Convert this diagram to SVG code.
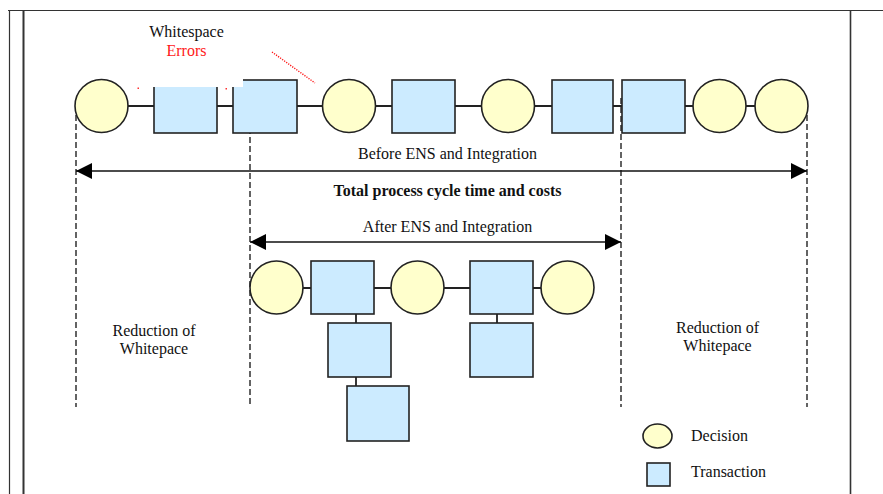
<svg xmlns="http://www.w3.org/2000/svg" width="883" height="494" viewBox="0 0 883 494">
  <style>
    text { font-family: "Liberation Serif", "Times New Roman", serif; font-size: 16px; fill: #111; }
    .mid { text-anchor: middle; }
    .dec { fill: #FFFFCC; stroke: #222; stroke-width: 1.6; }
    .trn { fill: #CCEBFF; stroke: #222; stroke-width: 1.6; }
    .link { stroke: #222; stroke-width: 1.8; fill: none; }
    .guide { stroke: #222; stroke-width: 1.4; stroke-dasharray: 6 3; fill: none; }
    .span { stroke: #111; stroke-width: 1.6; fill: none; }
    .frame { stroke: #333; fill: none; }
  </style>
  <defs>
    <marker id="head" viewBox="0 0 16 16" refX="16" refY="8" markerWidth="16" markerHeight="16" markerUnits="userSpaceOnUse" orient="auto-start-reverse">
      <path d="M0,0 L16,8 L0,16 Z" fill="#000"/>
    </marker>
  </defs>

  <rect width="883" height="494" fill="#fff"/>

  <!-- page frame -->
  <g id="frame">
    <line class="frame" x1="8" y1="10.5" x2="883" y2="10.5" stroke="#777" stroke-width="1"/>
    <line class="frame" x1="9.5" y1="10" x2="9.5" y2="494" stroke-width="1.2"/>
    <line class="frame" x1="23.5" y1="10" x2="23.5" y2="494" stroke-width="2"/>
    <line class="frame" x1="850.5" y1="10" x2="850.5" y2="494" stroke-width="1.6"/>
  </g>

  <!-- connectors -->
  <g id="connectors">
    <line class="link" x1="101" y1="106" x2="782" y2="106"/>
    <line class="link" x1="276" y1="288" x2="568" y2="288"/>
    <line class="link" x1="356" y1="314" x2="356" y2="386"/>
    <line class="link" x1="497" y1="314" x2="497" y2="323"/>
    <line class="guide" x1="76" y1="106" x2="76" y2="407"/>
    <line class="guide" x1="250" y1="110" x2="250" y2="407"/>
    <line class="guide" x1="807" y1="106" x2="807" y2="407"/>
  </g>

  <!-- process before integration -->
  <g id="before-d1"><circle class="dec" cx="101.5" cy="106" r="26.5"/></g>
  <g id="before-t1"><rect class="trn" x="154" y="80" width="63" height="53"/></g>
  <g id="before-t2"><rect class="trn" x="233" y="80" width="64" height="53"/></g>
  <g id="before-d2"><circle class="dec" cx="349" cy="106" r="26.5"/></g>
  <g id="before-t3"><rect class="trn" x="392" y="80" width="63" height="53"/></g>
  <g id="before-d3"><circle class="dec" cx="508" cy="106" r="26.5"/></g>
  <g id="before-t4"><rect class="trn" x="552" y="80" width="61" height="53"/></g>
  <g id="before-t5"><rect class="trn" x="622" y="80" width="63" height="53"/></g>
  <g id="before-d4"><circle class="dec" cx="719.5" cy="106" r="26.5"/></g>
  <g id="before-d5"><circle class="dec" cx="781.5" cy="106" r="26.5"/></g>

  <line class="guide" x1="621" y1="98" x2="621" y2="407"/>

  <!-- blank label patch over the first boxes -->
  <rect x="137" y="58" width="106" height="29" fill="#fff"/>

  <!-- whitespace errors callout -->
  <g id="callout">
    <text class="mid" x="186.5" y="37">Whitespace</text>
    <text class="mid" x="186.5" y="56" style="fill:#ff1a1a">Errors</text>
    <line x1="272" y1="52" x2="315" y2="83" stroke="#ff1010" stroke-width="1.4" stroke-dasharray="1.2 1.3"/>
    <rect x="137.5" y="87.5" width="1.5" height="1.5" fill="#ff3030"/>
    <rect x="225.5" y="88" width="1.5" height="1.5" fill="#ff3030"/>
  </g>

  <!-- spans -->
  <g id="spans">
    <line class="span" x1="76" y1="171" x2="807" y2="171" marker-start="url(#head)" marker-end="url(#head)"/>
    <line class="span" x1="250" y1="242" x2="621" y2="242" marker-start="url(#head)" marker-end="url(#head)"/>
    <text class="mid" x="447.5" y="159">Before ENS and Integration</text>
    <text class="mid" x="447.5" y="196" font-weight="bold">Total process cycle time and costs</text>
    <text class="mid" x="447.5" y="232">After ENS and Integration</text>
  </g>

  <!-- process after integration -->
  <g id="after-d1"><circle class="dec" cx="276.5" cy="287.5" r="26.5"/></g>
  <g id="after-t1"><rect class="trn" x="311" y="261" width="63" height="53"/></g>
  <g id="after-d2"><circle class="dec" cx="417.5" cy="287.5" r="26.5"/></g>
  <g id="after-t2"><rect class="trn" x="470" y="261" width="63" height="53"/></g>
  <g id="after-d3"><circle class="dec" cx="567.5" cy="287.5" r="26.5"/></g>
  <g id="after-t3"><rect class="trn" x="328" y="323" width="63" height="54"/></g>
  <g id="after-t4"><rect class="trn" x="347" y="386" width="62" height="55"/></g>
  <g id="after-t5"><rect class="trn" x="470" y="323" width="63" height="54"/></g>

  <!-- reduction labels -->
  <g id="reduction-left">
    <text class="mid" x="154" y="336">Reduction of</text>
    <text class="mid" x="154" y="354">Whitepace</text>
  </g>
  <g id="reduction-right">
    <text class="mid" x="717.5" y="333">Reduction of</text>
    <text class="mid" x="717.5" y="351">Whitepace</text>
  </g>

  <!-- legend -->
  <g id="legend-decision">
    <ellipse class="dec" cx="657.5" cy="436" rx="14.5" ry="12"/>
    <text x="691" y="441">Decision</text>
  </g>
  <g id="legend-transaction">
    <rect class="trn" x="647" y="463" width="23" height="23"/>
    <text x="691" y="477">Transaction</text>
  </g>
</svg>
